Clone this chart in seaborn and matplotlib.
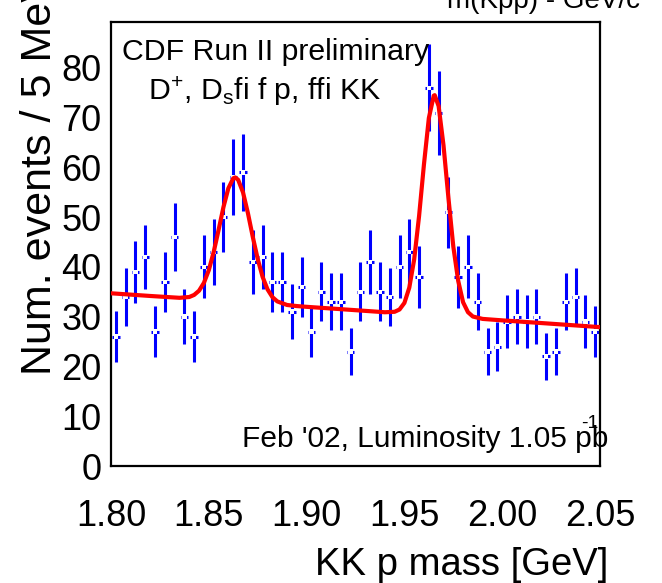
import numpy as np
import pandas as pd
import matplotlib
matplotlib.use("Agg")
import matplotlib.pyplot as plt
from matplotlib.ticker import MultipleLocator, FormatStrFormatter
import seaborn as sns

# ---- data ----
bin_lo = 1.80
bin_width = 0.005
counts = [26, 34, 39, 42, 27, 37, 46, 30, 26, 40,
          43, 50, 58, 59, 41, 42, 37, 37, 31, 36,
          27, 35, 33, 33, 23, 35, 41, 35, 34, 40,
          43, 38, 76, 71, 51, 38, 40, 33, 23, 24,
          29, 30, 29, 30, 22, 23, 33, 34, 29, 27]

fit_mass = [1.800, 1.820, 1.835, 1.840, 1.8425, 1.845, 1.8475, 1.850, 1.8525, 1.855,
            1.8575, 1.860, 1.8625, 1.8635, 1.865, 1.8675, 1.870, 1.8725, 1.875, 1.8775,
            1.880, 1.8825, 1.885, 1.890, 1.895, 1.900, 1.920, 1.940, 1.945, 1.9475,
            1.950, 1.9525, 1.955, 1.9575, 1.960, 1.9625, 1.965, 1.9655, 1.9675, 1.970,
            1.9725, 1.975, 1.9775, 1.980, 1.9825, 1.985, 1.990, 2.000, 2.020, 2.050]
fit_value = [34.70, 34.16, 33.79, 33.95, 34.37, 35.21, 36.79, 39.34, 42.99, 47.42,
             52.03, 55.79, 57.80, 57.97, 57.50, 54.96, 50.80, 46.00, 41.60, 38.00,
             35.50, 33.94, 33.07, 32.35, 32.13, 31.98, 31.44, 30.89, 30.98, 31.44,
             32.76, 35.83, 41.50, 50.20, 60.60, 69.90, 74.40, 74.50, 72.30, 64.40,
             53.90, 44.10, 37.20, 32.90, 30.90, 30.03, 29.55, 29.26, 28.72, 27.90]

x_ticks = [1.80, 1.85, 1.90, 1.95, 2.00, 2.05]
y_ticks = [0, 10, 20, 30, 40, 50, 60, 70, 80]

centers = bin_lo + bin_width * (np.arange(len(counts)) + 0.5)
errors = np.sqrt(np.array(counts, dtype=float))
hist_df = pd.DataFrame({"mass": centers, "events": counts, "err": errors})
fit_df = pd.DataFrame({"mass": fit_mass, "events": fit_value})

# ---- style ----
sns.set_style("white")
FONT = ["Liberation Sans", "DejaVu Sans"]
plt.rcParams["font.family"] = FONT
plt.rcParams["mathtext.default"] = "regular"
for key in ["text.color", "axes.labelcolor", "xtick.color", "ytick.color",
            "axes.edgecolor"]:
    plt.rcParams[key] = "black"

W, H = 662, 583
fig = plt.figure(figsize=(W / 100, H / 100), dpi=100)
ax = fig.add_axes([111 / W, 117 / H, 489 / W, 444 / H])

BLUE = "#0000FF"
RED = "#FF0000"

ax.errorbar(hist_df["mass"], hist_df["events"], yerr=hist_df["err"],
            xerr=0.0019, fmt="none", ecolor=BLUE, elinewidth=2.2, capsize=0, zorder=2)
sns.scatterplot(data=hist_df, x="mass", y="events", ax=ax, marker="s", s=10,
                color="white", edgecolor="none", linewidth=0, zorder=3, legend=False)
sns.lineplot(data=fit_df, x="mass", y="events", ax=ax, color=RED, lw=3.0,
             sort=False, estimator=None, zorder=4)

ax.set_xlim(1.80, 2.05)
ax.set_ylim(0, 89.2)
ax.set_xticks(x_ticks)
ax.set_yticks(y_ticks)
ax.xaxis.set_major_formatter(FormatStrFormatter("%.2f"))
ax.xaxis.set_minor_locator(MultipleLocator(0.025))
ax.yaxis.set_minor_locator(MultipleLocator(2))
ax.tick_params(axis="both", which="both", direction="in", top=False, right=False,
               color="black", labelcolor="black", width=1.2)
ax.tick_params(axis="both", which="major", length=9.5, labelsize=26)
ax.tick_params(axis="both", which="minor", length=5)
ax.tick_params(axis="x", which="major", pad=24)
ax.tick_params(axis="y", which="major", pad=7)
for sp in ax.spines.values():
    sp.set_visible(True)
    sp.set_color("black")
    sp.set_linewidth(1.6)
ax.set_xlabel("")
ax.set_ylabel("")
ax.grid(False)

# axis titles
fig.text(608 / W, (H - 575) / H, "KK p mass [GeV]", ha="right", va="baseline",
         fontsize=27.5)
fig.text(40 / W, (H - 375) / H, "Num. events / 5 MeV", rotation=90,
         ha="center", va="bottom", fontsize=31)

# annotations
fig.text(122 / W, (H - 60) / H, "CDF Run II preliminary", ha="left",
         va="baseline", fontsize=21.8)
fig.text(148 / W, (H - 100) / H, r"D$^{+}$, D$_{s}$fi f p, ffi KK", ha="left",
         va="baseline", fontsize=21.8)
fig.text(241.7 / W, (H - 446.7) / H, "Feb '02, Luminosity 1.05 pb", ha="left",
         va="baseline", fontsize=21.5)
fig.text(598 / W, (H - 428) / H, "-1", ha="right", va="baseline", fontsize=14)
fig.text(447 / W, (H - 8.5) / H, "m(Kpp) - GeV/c", ha="left", va="baseline",
         fontsize=20)

fig.savefig("out.png", dpi=100)
